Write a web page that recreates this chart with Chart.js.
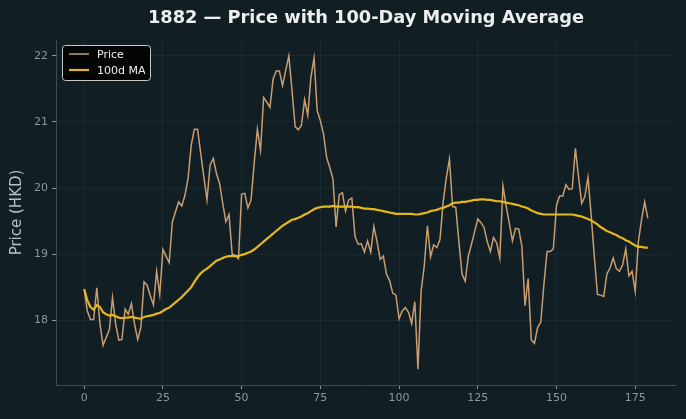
<!DOCTYPE html>
<html>
<head>
<meta charset="utf-8">
<script src="https://cdn.jsdelivr.net/npm/chart.js@4.4.0/dist/chart.umd.min.js"></script>
<style>
html,body{margin:0;padding:0;background:#111f25;}
#wrap{width:686px;height:419px;}
</style>
</head>
<body>
<div id="wrap"><canvas id="myChart" width="686" height="419"></canvas></div>
<script>
// 1882 daily closes (HKD)
let price=[
18.47,18.14,18.01,18.01,18.49,17.95,17.62,17.74,17.86,18.34,
17.94,17.70,17.71,18.17,18.09,18.25,17.94,17.71,17.89,18.58,
18.53,18.37,18.23,18.74,18.39,19.07,18.97,18.87,19.49,19.64,
19.79,19.73,19.89,20.15,20.65,20.89,20.89,20.53,20.17,19.82,
20.35,20.45,20.22,20.07,19.77,19.49,19.60,19.00,18.98,18.93,
19.91,19.92,19.70,19.82,20.38,20.89,20.57,21.37,21.30,21.22,
21.65,21.77,21.77,21.55,21.78,22.00,21.48,20.93,20.88,20.95,
21.34,21.10,21.67,21.97,21.17,21.02,20.82,20.46,20.31,20.14,
19.41,19.90,19.93,19.65,19.82,19.85,19.27,19.15,19.16,19.03,
19.20,19.03,19.42,19.19,18.92,18.97,18.70,18.60,18.41,18.38,
18.02,18.14,18.19,18.12,17.95,18.28,17.26,18.44,18.82,19.43,
18.96,19.14,19.10,19.22,19.79,20.15,20.44,19.72,19.71,19.19,
18.70,18.59,18.97,19.15,19.34,19.53,19.48,19.40,19.19,19.04,
19.25,19.17,18.94,20.03,19.73,19.47,19.20,19.39,19.38,19.12,
18.22,18.63,17.70,17.65,17.89,17.97,18.54,19.04,19.04,19.08,
19.74,19.88,19.88,20.05,19.98,19.99,20.60,20.17,19.77,19.87,
20.16,19.59,18.97,18.39,18.38,18.36,18.70,18.79,18.94,18.78,
18.74,18.84,19.08,18.67,18.74,18.44,19.19,19.52,19.79,19.54
];
// 100-day moving average as drawn
let ma100=[
18.47,18.30,18.20,18.16,18.23,18.20,18.12,18.09,18.07,18.08,
18.06,18.04,18.03,18.04,18.04,18.05,18.04,18.03,18.02,18.05,
18.06,18.07,18.08,18.10,18.11,18.14,18.17,18.19,18.23,18.27,
18.31,18.35,18.40,18.45,18.50,18.58,18.65,18.71,18.75,18.78,
18.82,18.86,18.90,18.92,18.94,18.96,18.97,18.97,18.97,18.97,
18.99,19.00,19.02,19.04,19.07,19.11,19.15,19.19,19.23,19.27,
19.31,19.35,19.39,19.43,19.46,19.49,19.52,19.53,19.55,19.57,
19.60,19.62,19.65,19.68,19.70,19.71,19.72,19.72,19.72,19.73,
19.72,19.72,19.72,19.72,19.72,19.72,19.71,19.71,19.70,19.69,
19.69,19.68,19.68,19.67,19.66,19.65,19.64,19.63,19.62,19.61,
19.61,19.61,19.61,19.61,19.61,19.60,19.60,19.61,19.62,19.63,
19.65,19.66,19.67,19.69,19.70,19.72,19.74,19.77,19.78,19.78,
19.79,19.79,19.80,19.81,19.82,19.82,19.83,19.83,19.82,19.82,
19.81,19.80,19.80,19.79,19.78,19.77,19.76,19.75,19.74,19.72,
19.71,19.69,19.66,19.64,19.62,19.61,19.60,19.60,19.60,19.60,
19.60,19.60,19.60,19.60,19.60,19.60,19.59,19.58,19.57,19.55,
19.53,19.51,19.48,19.45,19.41,19.38,19.35,19.33,19.31,19.29,
19.26,19.24,19.21,19.19,19.16,19.13,19.11,19.11,19.10,19.10
];
let days=price.map((v,i)=>i);
let xTicks=[0,25,50,75,100,125,150,175];
let yTicks=[18,19,20,21,22];

let titleText="1882 \u2014 Price with 100-Day Moving Average";
let priceColor="#c99d70";
let maColor="#e4b71c";
let bg="#111f25";

const bgPlugin={
    id:'bg',
    beforeDraw(chart){
        let c=chart.ctx;
        c.save();
        c.fillStyle=bg;
        c.fillRect(0,0,chart.width,chart.height);
        c.restore();
    },
    afterDraw(chart){
        let c=chart.ctx, a=chart.chartArea;
        c.save();
        // title
        c.fillStyle="#eceeef";
        c.font="bold 17.8px 'DejaVu Sans'";
        c.textAlign="center";
        c.textBaseline="middle";
        c.fillText(titleText,(a.left+a.right)/2,18);
        // legend box
        let lx=a.left+6, ly=a.top+5, lw=88, lh=35;
        c.beginPath();
        c.roundRect(lx+0.5,ly+0.5,lw,lh,3);
        c.fillStyle="rgba(0,0,0,0.85)";
        c.fill();
        c.strokeStyle="#c8c8c8";
        c.lineWidth=1;
        c.stroke();
        let items=[["Price",priceColor,1.5],["100d MA",maColor,2.2]];
        c.font="11px 'DejaVu Sans'";
        c.textAlign="left";
        items.forEach((it,k)=>{
            let yy=ly+9+k*16;
            c.beginPath();
            c.moveTo(lx+7,yy);
            c.lineTo(lx+27,yy);
            c.strokeStyle=it[1];
            c.lineWidth=it[2];
            c.stroke();
            c.fillStyle="#eeeeee";
            c.fillText(it[0],lx+35,yy+1);
        });
        c.restore();
    }
};

const ctx=document.getElementById('myChart').getContext('2d');
const myChart=new Chart(ctx,{
    type:'line',
    data:{
        datasets:[{
            label:'Price',
            data:days.map((d,i)=>({x:d,y:price[i]})),
            borderColor:priceColor,
            borderWidth:1.5,
            pointRadius:0,
            tension:0,
            order:1
        },{
            label:'100d MA',
            data:days.map((d,i)=>({x:d,y:ma100[i]})),
            borderColor:maColor,
            borderWidth:2.2,
            pointRadius:0,
            tension:0,
            order:0
        }]
    },
    options:{
        responsive:false,
        animation:false,
        devicePixelRatio:1,
        layout:{padding:{top:40,right:10,left:0,bottom:0}},
        plugins:{
            legend:{display:false},
            title:{display:false},
            tooltip:{enabled:false}
        },
        scales:{
            x:{
                type:'linear',
                min:-8.95,
                max:187.95,
                afterBuildTicks:(s)=>{s.ticks=xTicks.map(v=>({value:v}));},
                afterFit:(s)=>{s.height=34;},
                grid:{color:'#1b2a30',tickColor:'#8d969b',tickLength:4},
                border:{color:'#3d4a50'},
                ticks:{color:'#8d969b',font:{family:'DejaVu Sans',size:11},padding:3,maxRotation:0}
            },
            y:{
                min:17.02,
                max:22.24,
                afterBuildTicks:(s)=>{s.ticks=yTicks.map(v=>({value:v}));},
                afterFit:(s)=>{s.width=56;},
                grid:{color:'#1b2a30',tickColor:'#8d969b',tickLength:4},
                border:{color:'#3d4a50'},
                ticks:{color:'#8d969b',font:{family:'DejaVu Sans',size:11},padding:4},
                title:{display:true,text:'Price (HKD)',color:'#b9c0c4',font:{family:'DejaVu Sans',size:15},padding:{top:8,bottom:0}}
            }
        }
    },
    plugins:[bgPlugin]
});
</script>
</body>
</html>
